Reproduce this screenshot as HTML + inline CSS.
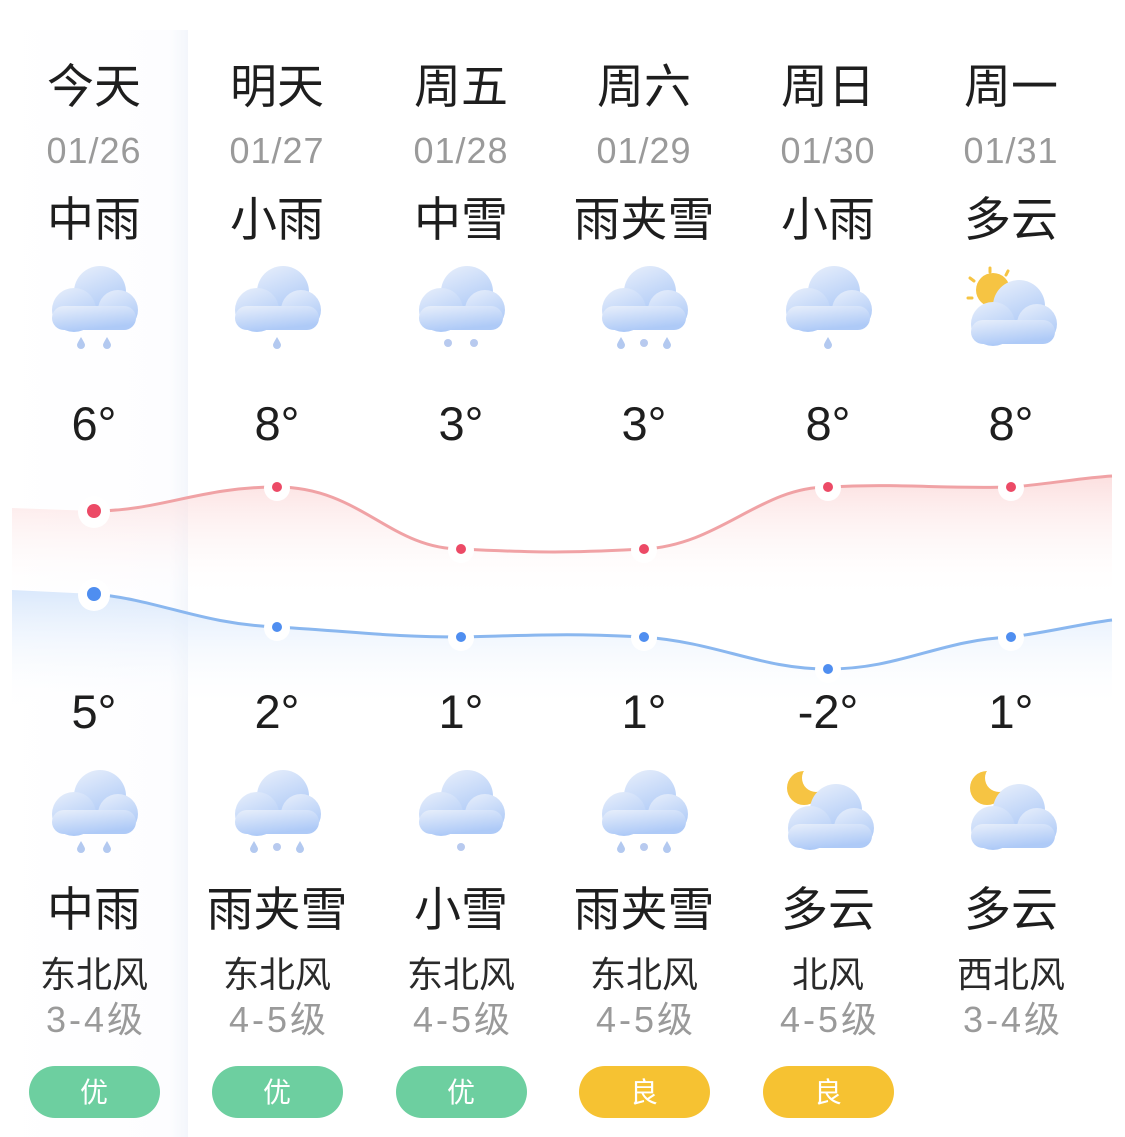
<!DOCTYPE html>
<html><head><meta charset="utf-8"><style>
html,body{margin:0;padding:0;background:#fff;}
svg{display:block}
text{font-family:"Liberation Sans","Noto Sans CJK SC",sans-serif;}
</style></head><body>
<svg width="1125" height="1137" viewBox="0 0 1125 1137" xmlns="http://www.w3.org/2000/svg">
<defs>
<linearGradient id="cg" x1="0" y1="0" x2="0.4" y2="1">
<stop offset="0" stop-color="#e8effb"/><stop offset="1" stop-color="#aecaf7"/>
</linearGradient>
<linearGradient id="redf" x1="0" y1="0" x2="0" y2="1">
<stop offset="0" stop-color="#fbd7d7" stop-opacity="0.8"/><stop offset="1" stop-color="#fff" stop-opacity="0"/>
</linearGradient>
<linearGradient id="bluef" x1="0" y1="0" x2="0" y2="1">
<stop offset="0" stop-color="#d6e6fb" stop-opacity="0.9"/><stop offset="1" stop-color="#fff" stop-opacity="0"/>
</linearGradient>
<linearGradient id="panel" x1="0" y1="0" x2="1" y2="0">
<stop offset="0" stop-color="#fff"/><stop offset="0.9" stop-color="#fdfdff"/><stop offset="1" stop-color="#f3f6fb"/>
</linearGradient>
<mask id="mm"><rect x="-60" y="-70" width="80" height="60" fill="#fff"/><circle cx="-12" cy="-40" r="14" fill="#000"/></mask>
<g id="cloud">
<circle cx="6" cy="-8" r="26" fill="url(#cg)"/>
<circle cx="-20" cy="10" r="22" fill="url(#cg)"/>
<circle cx="24" cy="10" r="20" fill="url(#cg)"/>
<rect x="-42" y="6" width="84" height="24" rx="12" fill="url(#cg)"/>
</g>
<g id="drop"><path d="M0,-6 C3,-1 4,1 4,2 A4,4 0 0 1 -4,2 C-4,1 -3,-1 0,-6Z" fill="#b3c9f0"/></g>
<g id="flake"><circle r="4" fill="#b8caef"/></g>
<g id="moon"><circle cx="-24" cy="-30" r="17" fill="#f6c443" mask="url(#mm)"/></g>
</defs>

<rect x="0" y="30" width="188" height="1107" fill="url(#panel)"/>

<path d="M12,508 L94,511 C160,511 200,487 277,487 C360,487 390,549 461,549 C540,553 570,553 644,549 C720,545 760,487 828,487 C900,483 940,489 1011,487 C1050,484 1080,478 1112,476 L1112,600 L12,600Z" fill="url(#redf)"/>
<path d="M12,590 L94,594 C160,600 200,624 277,627 C360,632 390,637 461,637 C540,635 570,633 644,637 C720,643 760,669 828,669 C900,669 940,640 1011,637 C1050,632 1080,624 1112,620 L1112,710 L12,710Z" fill="url(#bluef)"/>
<path d="M94,511 C160,511 200,487 277,487 C360,487 390,549 461,549 C540,553 570,553 644,549 C720,545 760,487 828,487 C900,483 940,489 1011,487 C1050,484 1080,478 1112,476" fill="none" stroke="#f0a2a5" stroke-width="3"/>
<path d="M94,594 C160,600 200,624 277,627 C360,632 390,637 461,637 C540,635 570,633 644,637 C720,643 760,669 828,669 C900,669 940,640 1011,637 C1050,632 1080,624 1112,620" fill="none" stroke="#8ab7ef" stroke-width="3"/>

<g fill="#fff">
<circle cx="94" cy="512" r="16"/><circle cx="277" cy="488" r="13"/><circle cx="461" cy="550" r="13"/><circle cx="644" cy="550" r="13"/><circle cx="828" cy="488" r="13"/><circle cx="1011" cy="488" r="13"/>
<circle cx="94" cy="595" r="16"/><circle cx="277" cy="628" r="13"/><circle cx="461" cy="638" r="13"/><circle cx="644" cy="638" r="13"/><circle cx="828" cy="670" r="13"/><circle cx="1011" cy="638" r="13"/>
</g>
<g fill="#ec4a66">
<circle cx="94" cy="511" r="7"/><circle cx="277" cy="487" r="5"/><circle cx="461" cy="549" r="5"/><circle cx="644" cy="549" r="5"/><circle cx="828" cy="487" r="5"/><circle cx="1011" cy="487" r="5"/>
</g>
<g fill="#4f8ef0">
<circle cx="94" cy="594" r="7"/><circle cx="277" cy="627" r="5"/><circle cx="461" cy="637" r="5"/><circle cx="644" cy="637" r="5"/><circle cx="828" cy="669" r="5"/><circle cx="1011" cy="637" r="5"/>
</g>

<g text-anchor="middle" font-size="47" fill="#1e1e1e">
<text x="94" y="103">今天</text><text x="277" y="103">明天</text><text x="461" y="103">周五</text><text x="644" y="103">周六</text><text x="828" y="103">周日</text><text x="1011" y="103">周一</text>
</g>
<g text-anchor="middle" font-size="36" fill="#9a9a9a" letter-spacing="1">
<text x="94" y="163">01/26</text><text x="277" y="163">01/27</text><text x="461" y="163">01/28</text><text x="644" y="163">01/29</text><text x="828" y="163">01/30</text><text x="1011" y="163">01/31</text>
</g>
<g text-anchor="middle" font-size="47" fill="#1e1e1e">
<text x="94" y="236">中雨</text><text x="277" y="236">小雨</text><text x="461" y="236">中雪</text><text x="644" y="236">雨夹雪</text><text x="828" y="236">小雨</text><text x="1011" y="236">多云</text>
<text x="94" y="440">6°</text><text x="277" y="440">8°</text><text x="461" y="440">3°</text><text x="644" y="440">3°</text><text x="828" y="440">8°</text><text x="1011" y="440">8°</text>
<text x="94" y="728">5°</text><text x="277" y="728">2°</text><text x="461" y="728">1°</text><text x="644" y="728">1°</text><text x="828" y="728">-2°</text><text x="1011" y="728">1°</text>
<text x="94" y="926">中雨</text><text x="277" y="926">雨夹雪</text><text x="461" y="926">小雪</text><text x="644" y="926">雨夹雪</text><text x="828" y="926">多云</text><text x="1011" y="926">多云</text>
</g>
<g text-anchor="middle" font-size="36" fill="#2a2a2a">
<text x="94" y="987">东北风</text><text x="277" y="987">东北风</text><text x="461" y="987">东北风</text><text x="644" y="987">东北风</text><text x="828" y="987">北风</text><text x="1011" y="987">西北风</text>
</g>
<g text-anchor="middle" font-size="36" fill="#9a9a9a" letter-spacing="3">
<text x="96" y="1032">3-4级</text><text x="279" y="1032">4-5级</text><text x="463" y="1032">4-5级</text><text x="646" y="1032">4-5级</text><text x="830" y="1032">4-5级</text><text x="1013" y="1032">3-4级</text>
</g>

<use href="#cloud" x="94" y="300"/><use href="#drop" x="81" y="343"/><use href="#drop" x="107" y="343"/>
<use href="#cloud" x="277" y="300"/><use href="#drop" x="277" y="343"/>
<use href="#cloud" x="461" y="300"/><use href="#flake" x="448" y="343"/><use href="#flake" x="474" y="343"/>
<use href="#cloud" x="644" y="300"/><use href="#drop" x="621" y="343"/><use href="#flake" x="644" y="343"/><use href="#drop" x="667" y="343"/>
<use href="#cloud" x="828" y="300"/><use href="#drop" x="828" y="343"/>
<circle cx="993" cy="290" r="17" fill="#f6c443"/>
<g stroke="#f6c443" stroke-width="3" stroke-linecap="round"><line x1="990" y1="268" x2="990" y2="272"/><line x1="970" y1="278" x2="974" y2="281"/><line x1="1008" y1="271" x2="1006" y2="275"/><line x1="968" y1="298" x2="972" y2="298"/></g>
<use href="#cloud" x="1013" y="314"/>

<use href="#cloud" x="94" y="804"/><use href="#drop" x="81" y="847"/><use href="#drop" x="107" y="847"/>
<use href="#cloud" x="277" y="804"/><use href="#drop" x="254" y="847"/><use href="#flake" x="277" y="847"/><use href="#drop" x="300" y="847"/>
<use href="#cloud" x="461" y="804"/><use href="#flake" x="461" y="847"/>
<use href="#cloud" x="644" y="804"/><use href="#drop" x="621" y="847"/><use href="#flake" x="644" y="847"/><use href="#drop" x="667" y="847"/>
<use href="#moon" x="828" y="818"/><use href="#cloud" x="830" y="818"/>
<use href="#moon" x="1011" y="818"/><use href="#cloud" x="1013" y="818"/>

<rect x="29" y="1066" width="131" height="52" rx="26" fill="#6dcfa0"/>
<rect x="212" y="1066" width="131" height="52" rx="26" fill="#6dcfa0"/>
<rect x="396" y="1066" width="131" height="52" rx="26" fill="#6dcfa0"/>
<rect x="579" y="1066" width="131" height="52" rx="26" fill="#f6c232"/>
<rect x="763" y="1066" width="131" height="52" rx="26" fill="#f6c232"/>
<g text-anchor="middle" font-size="28" fill="#fff">
<text x="94" y="1102">优</text><text x="277" y="1102">优</text><text x="461" y="1102">优</text><text x="644" y="1102">良</text><text x="828" y="1102">良</text>
</g>
</svg>
</body></html>
